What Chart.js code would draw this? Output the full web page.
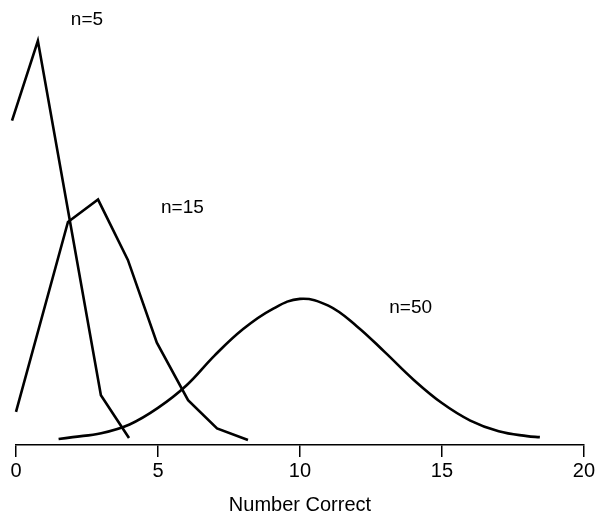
<!DOCTYPE html>
<html>
<head>
<meta charset="utf-8">
<script src="https://cdn.jsdelivr.net/npm/chart.js@4/dist/chart.umd.min.js"></script>
<style>
  html, body { margin: 0; padding: 0; background: #fff; }
  #wrap { width: 599px; height: 515px; }
</style>
</head>
<body>
<div id="wrap"><canvas id="chart"></canvas></div>
<script>
// values
const xN5 = [-0.14, 0.77, 2.99, 3.98]
const yN5 = [0.328, 0.410, 0.046, 0.002]

const xN15 = [0, 1.83, 2.89, 3.94, 4.96, 6.06, 7.08, 8.17]
const yN15 = [0.029, 0.224, 0.247, 0.185, 0.100, 0.041, 0.012, 0.000]

const xN50 = [1.5, 2, 3, 4, 5, 6, 7, 8, 9, 10, 11, 12, 13, 14, 15, 16, 17, 18, 18.45]
const yN50 = [0.001, 0.003, 0.007, 0.016, 0.033, 0.056, 0.087, 0.114, 0.134, 0.145,
              0.138, 0.117, 0.090, 0.062, 0.038, 0.020, 0.009, 0.004, 0.003]

const xTicks = [0, 5, 10, 15, 20]

const curveLabels = ['n=5', 'n=15', 'n=50']
const labelX = [2.5, 5.86, 13.9]
const labelY = [0.432, 0.239, 0.136]

const toPoints = (xs, ys) => xs.map((x, i) => ({ x: x, y: ys[i] }))

const lineStyle = {
  borderColor: '#000',
  borderWidth: 2.6,
  pointRadius: 0,
  fill: false,
  clip: false
}

const fontFamily = '"Liberation Sans", Arial, sans-serif'

// 曲線ラベル
const curveLabelPlugin = {
  id: 'curveLabels',
  afterDatasetsDraw(chart) {
    const ctx = chart.ctx
    const xs = chart.scales.x
    const ys = chart.scales.y
    ctx.save()
    ctx.fillStyle = '#000'
    ctx.font = '19px ' + fontFamily
    ctx.textAlign = 'center'
    ctx.textBaseline = 'middle'
    curveLabels.forEach((t, i) => {
      ctx.fillText(t, xs.getPixelForValue(labelX[i]), ys.getPixelForValue(labelY[i]))
    })
    ctx.restore()
  }
}

new Chart(document.getElementById('chart'), {
  type: 'line',
  data: {
    datasets: [
      Object.assign({ label: 'n=5', data: toPoints(xN5, yN5), tension: 0 }, lineStyle),
      Object.assign({ label: 'n=15', data: toPoints(xN15, yN15), tension: 0 }, lineStyle),
      Object.assign({ label: 'n=50', data: toPoints(xN50, yN50), tension: 0.4 }, lineStyle)
    ]
  },
  options: {
    responsive: true,
    maintainAspectRatio: false,
    animation: false,
    layout: { padding: { left: 16, right: 15, top: 0, bottom: 0 } },
    plugins: {
      legend: { display: false },
      tooltip: { enabled: false }
    },
    scales: {
      x: {
        type: 'linear',
        min: 0,
        max: 20,
        afterBuildTicks: (axis) => { axis.ticks = xTicks.map(v => ({ value: v })) },
        grid: {
          drawOnChartArea: false,
          drawTicks: true,
          tickLength: 12,
          color: '#000',
          lineWidth: 1.5
        },
        border: { display: true, color: '#000', width: 1.5 },
        ticks: {
          color: '#000',
          padding: 4,
          maxRotation: 0,
          font: { family: fontFamily, size: 20, lineHeight: 1 }
        },
        title: {
          display: true,
          text: 'Number Correct',
          color: '#000',
          padding: { top: 10, bottom: 0 },
          font: { family: fontFamily, size: 20, lineHeight: 1 }
        }
      },
      y: {
        display: false,
        min: -0.0051,
        max: 0.452
      }
    }
  },
  plugins: [curveLabelPlugin]
})
</script>
</body>
</html>
